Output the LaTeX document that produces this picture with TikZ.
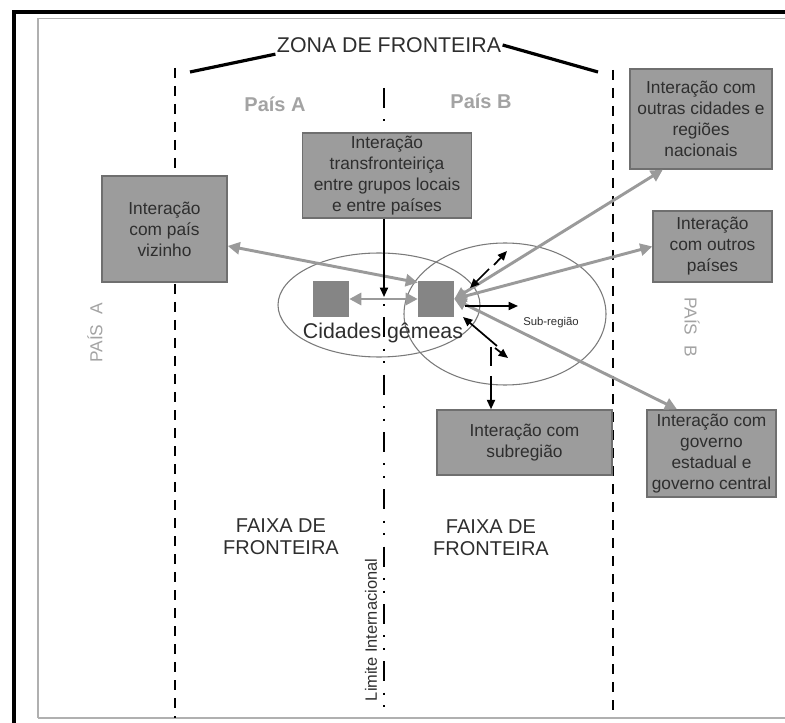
\documentclass[tikz,border=0pt]{standalone}
\usepackage{fontspec}
\setmainfont{Liberation Sans}
\usetikzlibrary{arrows.meta}
\definecolor{boxfill}{HTML}{9C9C9C}
\definecolor{boxdraw}{HTML}{6F6F6F}
\definecolor{txt}{HTML}{2E2E2E}
\definecolor{lbl}{HTML}{A3A3A3}
\definecolor{garr}{HTML}{9A9A9A}
\definecolor{sqfill}{HTML}{858585}
\definecolor{ellc}{HTML}{7A7A7A}
\definecolor{frame}{HTML}{B0B0B0}
\begin{document}
\begin{tikzpicture}[x=0.75pt,y=-0.75pt,
  box/.style={draw=boxdraw, line width=1.1pt, fill=boxfill, text=txt,
    font=\fontsize{13}{15.75}\selectfont, align=center, inner sep=0pt},
  sqr/.style={fill=sqfill, minimum width=27pt, minimum height=27pt, inner sep=0pt},
  garrow/.style={draw=garr, line width=2.2pt,
    arrows={Triangle[length=9pt,width=9pt]-Triangle[length=9pt,width=9pt]}},
  barrow/.style={draw=black, line width=1.3pt, -{Triangle[length=7pt,width=6pt]}},
  ell/.style={draw=ellc, line width=0.8pt},
  graylbl/.style={text=lbl, font=\fontsize{15}{18}\selectfont\bfseries},
  vlbl/.style={text=lbl, font=\fontsize{13}{15}\selectfont},
  faixa/.style={text=txt, align=center, font=\fontsize{15}{16.5}\selectfont}
]
\useasboundingbox (0,0) rectangle (785,723);

% frames
\draw[frame, line width=1.3pt] (38,718) -- (38,18.5) -- (785,18.5);
\draw[frame, line width=1.3pt] (38,718) -- (785,718);
\draw[line width=3.6pt] (14,723) -- (14,12) -- (785,12);

% vertical lines
\draw[line width=1pt, dash pattern=on 7.5pt off 6pt] (175,68) -- (175,718);
\draw[line width=1pt, dash pattern=on 7.5pt off 6pt] (613,70) -- (613,718);
\draw[line width=1.9pt, dash pattern=on 15pt off 8.5pt on 1.5pt off 8pt on 1.5pt off 8.5pt] (384,88) -- (384,712);

% title
\node[text=txt, font=\fontsize{16}{19}\selectfont, inner sep=1pt] (zona) at (389,45) {ZONA DE FRONTEIRA};
\coordinate (zl) at (190,72);
\coordinate (zr) at (598,72);
\draw[line width=2.4pt] (zl) -- (zona.south west);
\draw[line width=2.4pt] (zona.east) -- (zr);

% labels
\node[graylbl] (pa) at (275,104) {País A};
\node[graylbl] (pb) at (481,101) {País B};
\node[vlbl, rotate=90] (pA) at (95,333) {PAÍS\ \ A};
\node[vlbl, rotate=-90] (pB) at (692,327) {PAÍS\ \ B};
\node[faixa] (fa) at (281,537) {FAIXA DE\\FRONTEIRA};
\node[faixa] (fb) at (491,538) {FAIXA DE\\FRONTEIRA};
\node[text=txt, rotate=90, font=\fontsize{12.3}{14}\selectfont] (lim) at (371,630) {Limite Internacional};

% ellipses
\draw[ell] (379,305) ellipse [x radius=75.75pt, y radius=39pt];
\draw[ell] (505,314) ellipse [x radius=75.75pt, y radius=53.25pt];

% boxes
\node[box, minimum width=125*0.75pt, minimum height=106*0.75pt] (viz) at (164.5,229) {Interação\\com país\\vizinho};
\node[box, minimum width=169*0.75pt, minimum height=85*0.75pt] (trans) at (387,175.5) {Interação\\transfronteiriça\\entre grupos locais\\e entre países};
\node[box, minimum width=142*0.75pt, minimum height=100*0.75pt] (outc) at (701,119) {Interação com\\outras cidades e\\regiões\\nacionais};
\node[box, minimum width=119*0.75pt, minimum height=71*0.75pt] (outp) at (712.5,246.5) {Interação\\com outros\\países};
\node[box, minimum width=129*0.75pt, minimum height=87*0.75pt] (gov) at (711.5,453.5) {Interação com\\governo\\estadual e\\governo central};
\node[box, minimum width=175*0.75pt, minimum height=65*0.75pt] (sub) at (524.5,442.5) {Interação com\\subregião};

% twin cities
\node[sqr] (sqA) at (331,299) {};
\node[sqr] (sqB) at (436,299) {};
\node[text=txt, font=\fontsize{16}{19}\selectfont] (cg) at (383,333) {Cidades gêmeas};
\node[text=txt, font=\fontsize{8.5}{10}\selectfont] (subr) at (551,323) {Sub-região};

% gray arrows
\draw[garrow] (sqA.east) -- (sqB.west);
\draw[garrow] (viz.-15) -- (sqB.138);
\draw[garrow] (sqB.east) -- (outc.-127);
\draw[garrow] (sqB.east) -- (outp.west);
\draw[garrow] (sqB.east) -- (gov.128);

% black arrows
\coordinate (tdown) at (384,297);
\draw[barrow] (tdown |- trans.south) -- (tdown);
\coordinate (a1) at (494,265); \coordinate (a2) at (507,251);
\draw[barrow] (a1) -- (a2);
\coordinate (b1) at (489,269); \coordinate (b2) at (470,288);
\draw[barrow] (b1) -- (b2);
\coordinate (c1) at (465,306); \coordinate (c2) at (518,306);
\draw[barrow] (c1) -- (c2);
\coordinate (d1) at (497,346); \coordinate (d2) at (463,317);
\draw[barrow] (d1) -- (d2);
\coordinate (e1) at (495,348); \coordinate (e2) at (508,358);
\draw[barrow] (e1) -- (e2);
\coordinate (f1) at (491,347); \coordinate (f2) at (491,366); \coordinate (f3) at (491,376);
\draw[line width=1.3pt] (f1) -- (f2);
\draw[barrow] (f3) -- (f3 |- sub.north);
\end{tikzpicture}
\end{document}
